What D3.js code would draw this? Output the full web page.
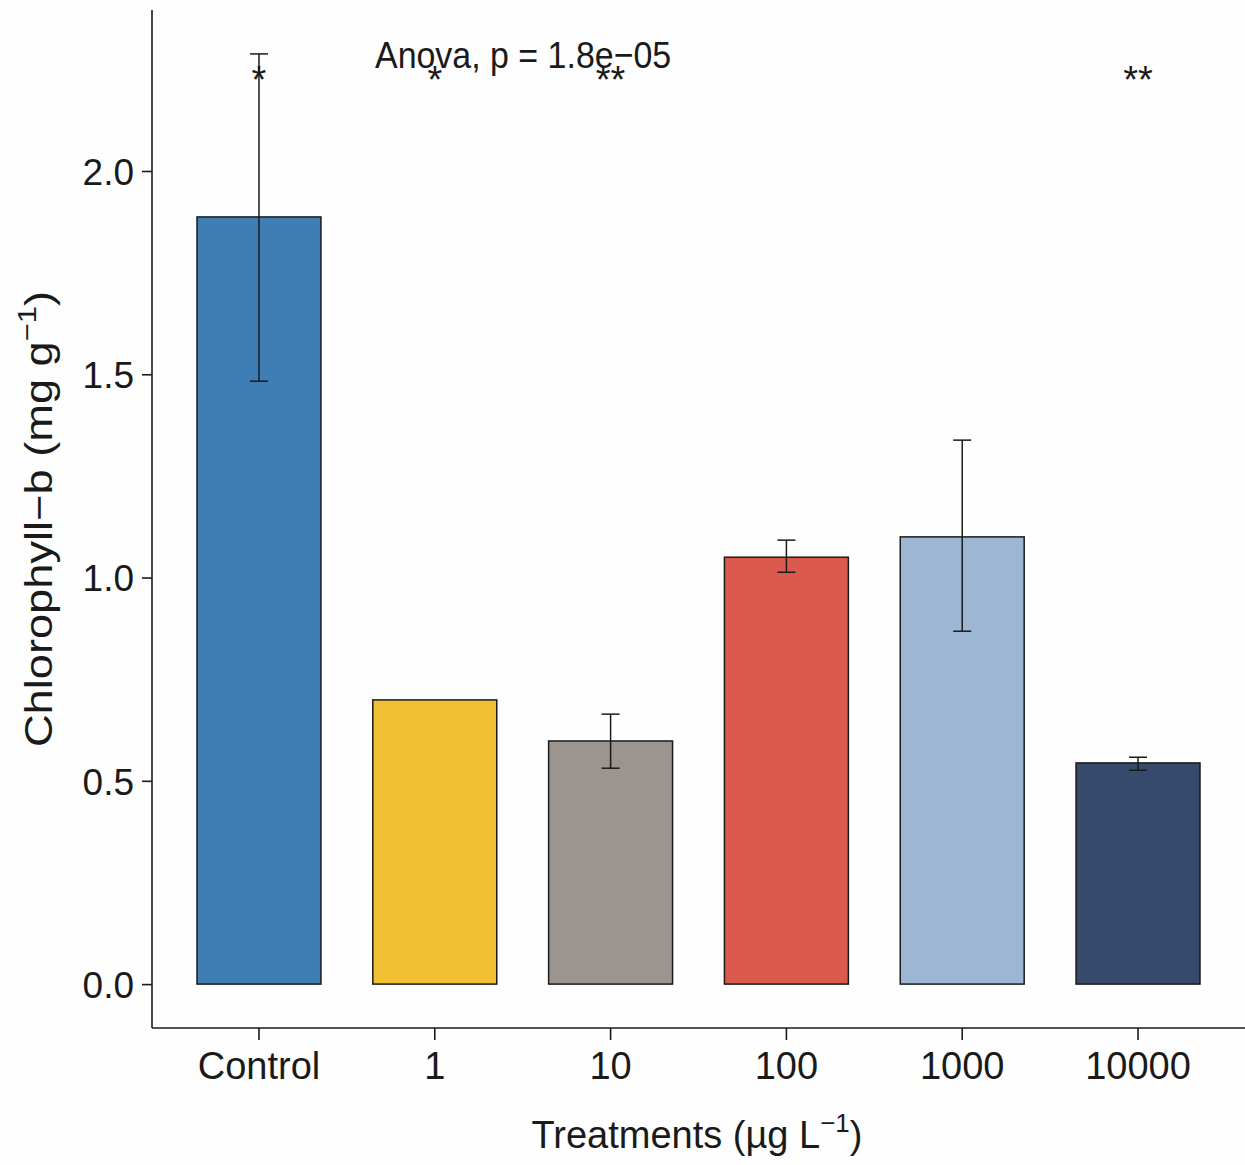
<html>
<head>
<script src="https://d3js.org/d3.v7.min.js"></script>
<style>
  body { margin: 0; background: #fefefe; }
  text { font-family: "Liberation Sans", Arial, sans-serif; fill: #1a1a1a; }
  .axis path, .axis line { stroke: #1a1a1a; stroke-width: 1.6; }
</style>
</head>
<body>
<svg id="chart" width="1245" height="1165"></svg>
<script>
  // data
  const treatments = ["Control", "1", "10", "100", "1000", "10000"];
  const means = [1.887, 0.699, 0.598, 1.050, 1.100, 0.544];
  const errLow = [1.483, null, 0.531, 1.013, 0.868, 0.526];
  const errHigh = [2.288, null, 0.664, 1.092, 1.338, 0.558];
  const stars = ["*", "*", "**", "", "", "**"];
  const barColors = ["#3f7eb5", "#f2c035", "#9c958f", "#da5a4d", "#9cb6d4", "#364b6b"];
  const yTicks = [0, 0.5, 1.0, 1.5, 2.0];

  const svg = d3.select("#chart");
  const plotLeft = 152, plotBottom = 1028, plotTop = 10, plotRight = 1245;

  const x = d3.scaleBand().domain(treatments).range([plotLeft, plotRight])
    .paddingInner(0.295).paddingOuter(0.256);
  const y = d3.scaleLinear().domain([-0.108, 2.396]).range([plotBottom, plotTop]);

  const data = treatments.map((t, i) => ({t: t, m: means[i], lo: errLow[i], hi: errHigh[i], s: stars[i], c: barColors[i]}));

  // bars
  svg.append("g").selectAll("rect").data(data).enter().append("rect")
    .attr("x", d => x(d.t))
    .attr("width", x.bandwidth())
    .attr("y", d => y(d.m))
    .attr("height", d => y(0) - y(d.m))
    .attr("fill", d => d.c)
    .attr("stroke", "#1a1a1a")
    .attr("stroke-width", 1.5);

  // error bars
  const eb = svg.append("g").selectAll("g").data(data.filter(d => d.lo != null)).enter().append("g")
    .attr("stroke", "#1a1a1a").attr("stroke-width", 1.5);
  const cx = d => x(d.t) + x.bandwidth() / 2;
  eb.append("line").attr("x1", cx).attr("x2", cx).attr("y1", d => y(d.lo)).attr("y2", d => y(d.hi));
  eb.append("line").attr("x1", d => cx(d) - 9).attr("x2", d => cx(d) + 9).attr("y1", d => y(d.lo)).attr("y2", d => y(d.lo));
  eb.append("line").attr("x1", d => cx(d) - 9).attr("x2", d => cx(d) + 9).attr("y1", d => y(d.hi)).attr("y2", d => y(d.hi));

  // significance stars
  svg.append("g").selectAll("text").data(data).enter().append("text")
    .attr("x", cx).attr("y", 93)
    .attr("text-anchor", "middle")
    .attr("font-size", 38)
    .text(d => d.s);

  // axes
  const yAxis = d3.axisLeft(y).tickValues(yTicks).tickFormat(d3.format(".1f")).tickSize(10).tickPadding(8);
  const ya = svg.append("g").attr("class", "axis").attr("transform", "translate(" + plotLeft + ",0)").call(yAxis);
  ya.select(".domain").attr("d", "M0," + plotTop + "V" + plotBottom);
  ya.selectAll("text").attr("font-size", 37).attr("font-family", null).attr("dy", "0.36em");

  const xAxis = d3.axisBottom(x).tickSize(12).tickPadding(12);
  const xa = svg.append("g").attr("class", "axis").attr("transform", "translate(0," + plotBottom + ")").call(xAxis);
  xa.select(".domain").attr("d", "M" + plotLeft + ",0H" + plotRight);
  xa.selectAll("text").attr("font-size", 38).attr("font-family", null);

  // annotation
  svg.append("text").attr("transform", "translate(375,68) scale(0.97,1.08)").attr("font-size", 35).text("Anova, p = 1.8e\u221205");

  // axis titles
  const xt = svg.append("text").attr("x", 697).attr("y", 1148).attr("text-anchor", "middle").attr("font-size", 38);
  xt.append("tspan").text("Treatments (\u00b5g L");
  xt.append("tspan").attr("dy", -16).attr("font-size", 26).text("\u22121");
  xt.append("tspan").attr("dy", 16).text(")");

  const yt = svg.append("text").attr("transform", "translate(52,519) rotate(-90) scale(1.19,1)").attr("text-anchor", "middle").attr("font-size", 38);
  yt.append("tspan").text("Chlorophyll\u2212b (mg g");
  yt.append("tspan").attr("dy", -16).attr("font-size", 26).text("\u22121");
  yt.append("tspan").attr("dy", 16).text(")");
</script>
</body>
</html>
